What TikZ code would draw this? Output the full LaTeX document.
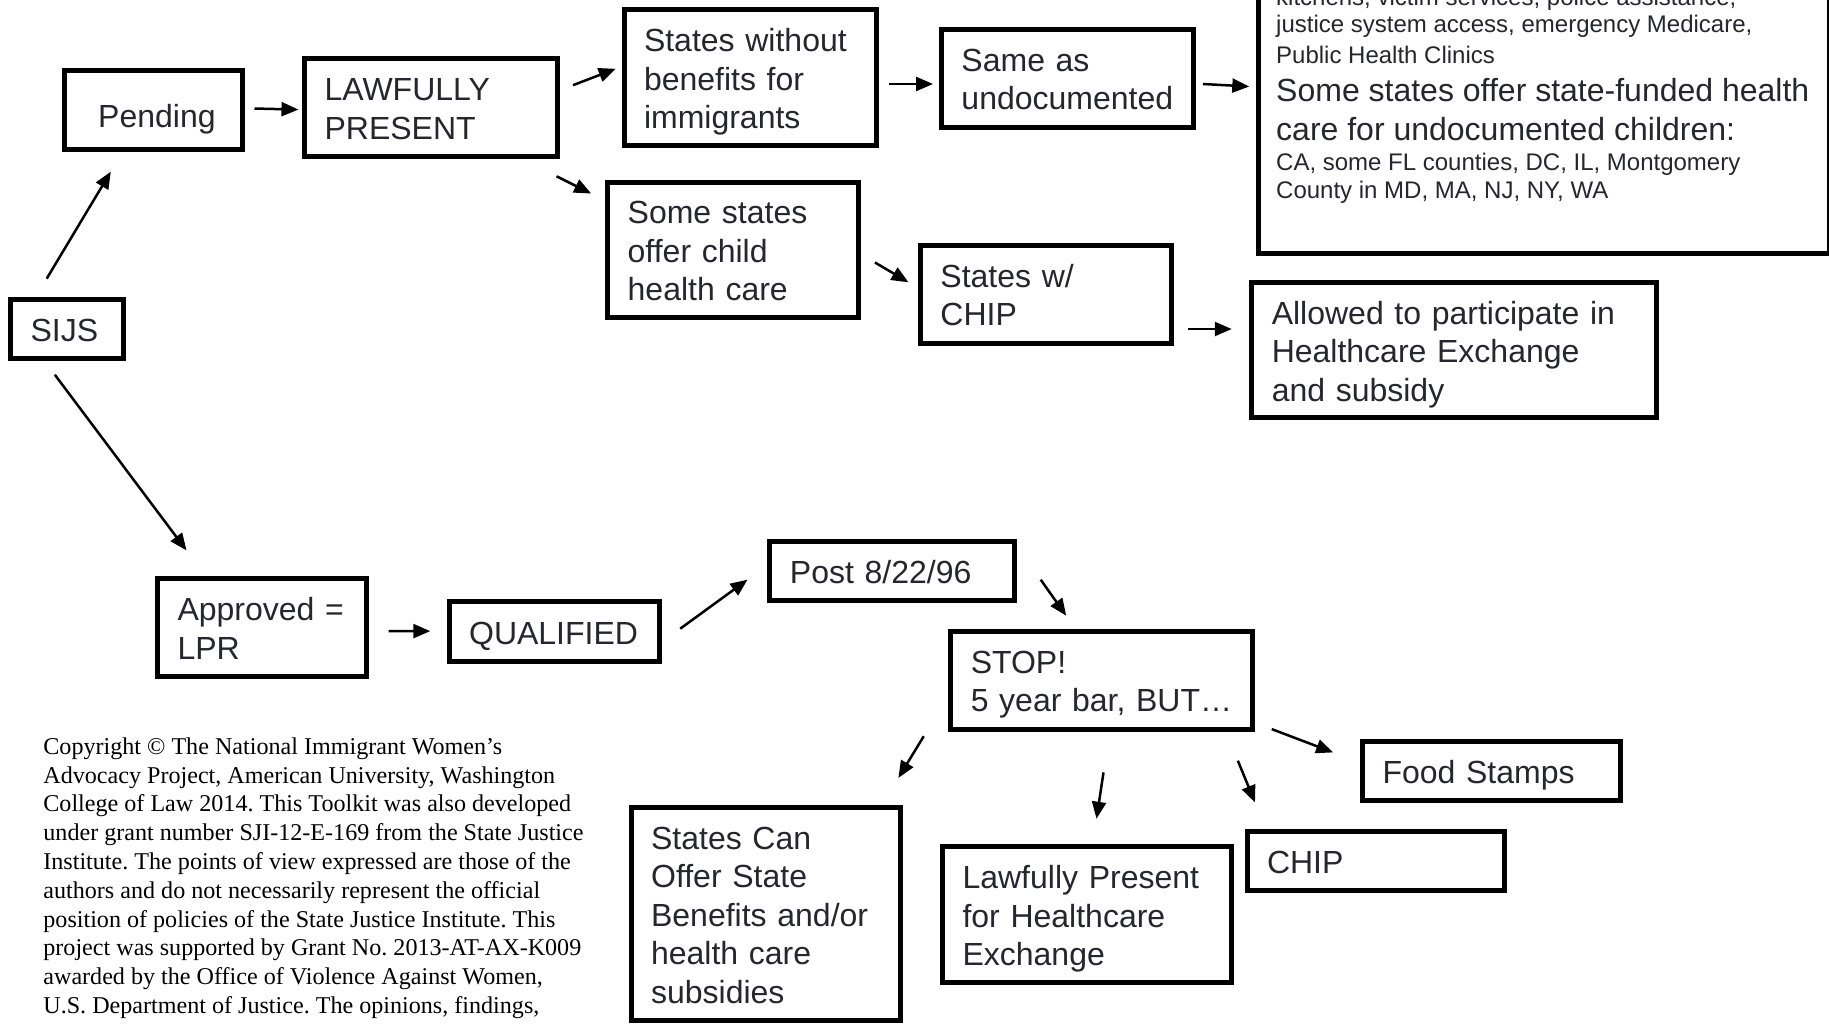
\documentclass[tikz,border=0pt]{standalone}
\usepackage{fontspec}
\setmainfont{Liberation Sans}
\newfontfamily\serifcopy{Liberation Serif}
\usetikzlibrary{arrows.meta}
\definecolor{txt}{HTML}{26262E}
\hyphenpenalty=10000
\exhyphenpenalty=10000
\begin{document}
\begin{tikzpicture}[x=1pt,y=-1pt,
  box/.style={draw=black, line width=5pt, rectangle, inner xsep=20pt, inner ysep=0pt,
              align=left, text=txt, font=\fontsize{32}{38.5}\selectfont,
              execute at begin node={\rule{0pt}{33pt}},
              execute at end node={\rule[-8pt]{0pt}{8pt}}},
  arr/.style={line width=2.5pt, -{Triangle[length=17pt,width=14pt]}},
  smalltxt/.style={anchor=base west, inner sep=0pt, text=txt, font=\fontsize{24}{28}\selectfont},
  bigtxt/.style={anchor=base west, inner sep=0pt, text=txt, font=\fontsize{32}{38.5}\selectfont},
]
\useasboundingbox (0,0) rectangle (1829,1023);
\fill[white] (0,0) rectangle (1829,1023);

% boxes
\node[box, minimum width=178.4pt, minimum height=79.3pt, text width=138.4pt, align=center,
      execute at begin node={\rule{0pt}{42.6pt}}] (pend) at (153.4,109.7) {\hspace*{7pt}Pending};
\node[box, minimum width=253.1pt, minimum height=98pt, text width=213.1pt] (lawf) at (431.1,107.3) {LAWFULLY\\PRESENT};
\node[box, minimum width=252pt, minimum height=136.5pt, text width=212pt] (stw) at (750,77.6) {States without\\benefits for\\immigrants};
\node[box, minimum width=251.9pt, minimum height=97.9pt, text width=211.9pt] (same) at (1067.4,78.2) {Same as\\undocumented};
\node[box, minimum width=250.8pt, minimum height=135.3pt, text width=210.8pt] (child) at (733.1,249.7) {Some states\\offer child\\health care};
\node[box, minimum width=250.8pt, minimum height=98pt, text width=210.8pt] (schip) at (1045.8,294) {States w/\\CHIP};
\node[box, minimum width=404.7pt, minimum height=135.3pt, text width=364.7pt] (allow) at (1454.1,350) {Allowed to participate in\\Healthcare Exchange\\and subsidy};
\node[box, minimum width=113.1pt, minimum height=58.3pt, text width=73.1pt] (sijs) at (67.1,329) {SIJS};
\node[box, minimum width=208.8pt, minimum height=98pt, text width=168.8pt] (appr) at (261.9,627.6) {Approved =\\LPR};
\node[box, minimum width=210pt, minimum height=59.5pt, text width=170pt] (qual) at (554.1,631.7) {QUALIFIED};
\node[box, minimum width=245pt, minimum height=59.4pt, text width=205pt] (post) at (892.4,571) {Post 8/22/96};
\node[box, minimum width=302.1pt, minimum height=98pt, text width=262.1pt] (stop) at (1101.8,680.1) {STOP!\\5 year bar, BUT…};
\node[box, minimum width=257.8pt, minimum height=58.3pt, text width=217.8pt] (food) at (1491.4,771.1) {Food Stamps};
\node[box, minimum width=257.8pt, minimum height=58.3pt, text width=217.8pt] (chipb) at (1375.9,860.9) {CHIP};
\node[box, minimum width=289.3pt, minimum height=135.3pt, text width=249.3pt] (lp) at (1087.2,914.6) {Lawfully Present\\for Healthcare\\Exchange};
\node[box, minimum width=269.4pt, minimum height=212.8pt, text width=229.4pt] (can) at (765.8,913.6) {States Can\\Offer State\\Benefits and/or\\health care\\subsidies};

% big top-right box
\node[draw=black, line width=5pt, minimum width=570.4pt, minimum height=281pt, anchor=north west, inner sep=0pt] (big) at (1256.3,-30) {};
\node[smalltxt] (bt1) at (1276,5) {kitchens, victim services, police assistance,};
\node[smalltxt] (bt2) at (1276,32) {justice system access, emergency Medicare,};
\node[smalltxt] (bt3) at (1276,63.5) {Public Health Clinics};
\node[bigtxt] (bt4) at (1276,101.3) {Some states offer state-funded health};
\node[bigtxt] (bt5) at (1276,140) {care for undocumented children:};
\node[smalltxt] (bt6) at (1276,170.7) {CA, some FL counties, DC, IL, Montgomery};
\node[smalltxt] (bt7) at (1276,198.7) {County in MD, MA, NJ, NY, WA};

% copyright
\node[anchor=north west, inner sep=0pt, align=left, text=black,
      font=\serifcopy\frenchspacing\fontsize{24.1}{28.8}\selectfont] (copy) at (43.2,737.3)
{Copyright © The National Immigrant Women’s\\
Advocacy Project, American University, Washington\\
College of Law 2014. This Toolkit was also developed\\
under grant number SJI-12-E-169 from the State Justice\\
Institute. The points of view expressed are those of the\\
authors and do not necessarily represent the official\\
position of policies of the State Justice Institute. This\\
project was supported by Grant No. 2013-AT-AX-K009\\
awarded by the Office of Violence Against Women,\\
U.S. Department of Justice. The opinions, findings,};

% arrows
\draw[arr] ([shift={(-20.4,-18.7)}]sijs.north) -- ([shift={(-42.6,19.8)}]pend.south);
\draw[arr] ([shift={(9.4,-1.2)}]pend.east) -- ([shift={(-3.6,2.3)}]lawf.west);
\draw[arr] ([shift={(12.8,-22.1)}]lawf.east) -- ([shift={(-5.8,-8.8)}]stw.west);
\draw[arr] ([shift={(-3.6,17.5)}]lawf.south east) -- ([shift={(-14,14)}]child.north west);
\draw[arr] ([shift={(10.5,6.4)}]stw.east) -- ([shift={(-5.9,5.8)}]same.west);
\draw[arr] ([shift={(7,5.8)}]same.east) -- ([shift={(-7,-26.5)}]big.west);
\draw[arr] ([shift={(14,12.8)}]child.east) -- ([shift={(-9.4,-11.7)}]schip.west);
\draw[arr] ([shift={(14,35)}]schip.east) -- ([shift={(-17.5,-21)}]allow.west);
\draw[arr] ([shift={(-12.3,14)}]sijs.south) -- ([shift={(31.5,-25.7)}]appr.north west);
\draw[arr] ([shift={(19.8,3.5)}]appr.east) -- ([shift={(-16.3,-0.6)}]qual.west);
\draw[arr] ([shift={(18.6,-3)}]qual.east) -- ([shift={(-19.9,8.7)}]post.west);
\draw[arr] ([shift={(23.3,8.7)}]post.east) -- ([shift={(-35.6,-12.9)}]stop.north);
\draw[arr] ([shift={(-24.5,4.6)}]stop.south west) -- ([shift={(-4.6,-26.8)}]can.north east);
\draw[arr] ([shift={(1.7,40.8)}]stop.south) -- ([shift={(9.3,-25.7)}]lp.north);
\draw[arr] ([shift={(-17.5,29.1)}]stop.south east) -- ([shift={(10.5,-26.8)}]chipb.north west);
\draw[arr] ([shift={(16.4,49)}]stop.east) -- ([shift={(-26.9,-18.7)}]food.west);
\end{tikzpicture}
\end{document}
